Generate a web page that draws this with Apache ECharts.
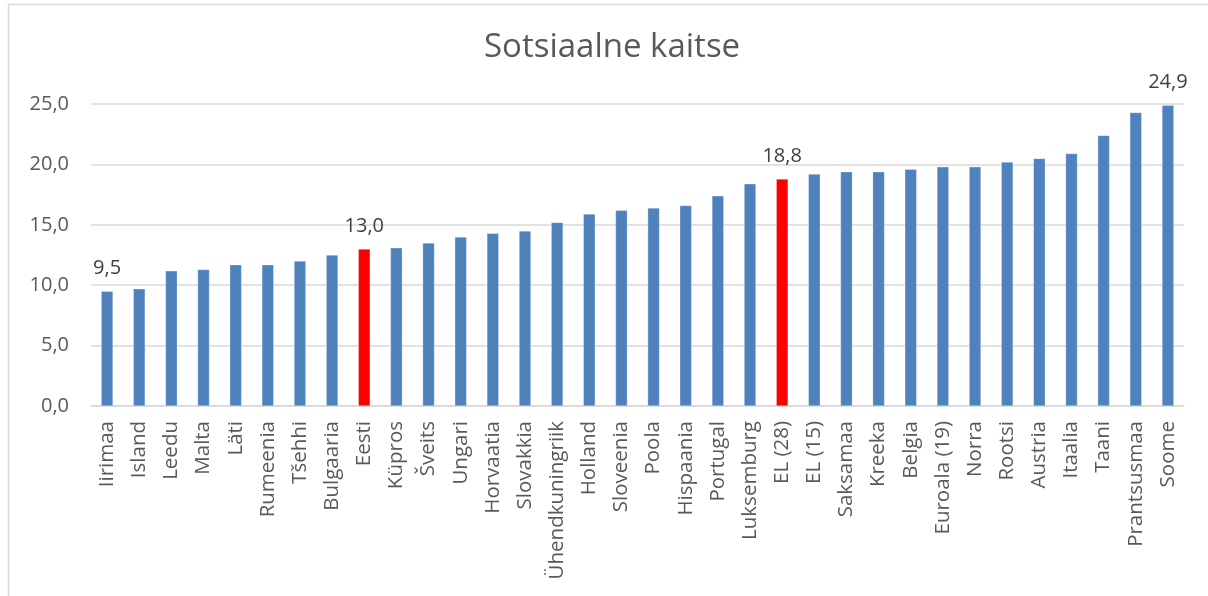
<!DOCTYPE html>
<html>
<head>
<meta charset="utf-8">
<script src="https://cdn.jsdelivr.net/npm/echarts@6/dist/echarts.min.js"></script>
<style>
  html, body { margin: 0; padding: 0; background: #fff; }
  #chart { width: 1208px; height: 596px; }
</style>
</head>
<body>
<div id="chart"></div>
<script>
// Sotsiaalse kaitse kulud, % SKP-st
const categories = [
  'Iirimaa', 'Island', 'Leedu', 'Malta', 'Läti', 'Rumeenia', 'Tšehhi', 'Bulgaaria',
  'Eesti', 'Küpros', 'Šveits', 'Ungari', 'Horvaatia', 'Slovakkia', 'Ühendkuningriik',
  'Holland', 'Sloveenia', 'Poola', 'Hispaania', 'Portugal', 'Luksemburg', 'EL (28)',
  'EL (15)', 'Saksamaa', 'Kreeka', 'Belgia', 'Euroala (19)', 'Norra', 'Rootsi',
  'Austria', 'Itaalia', 'Taani', 'Prantsusmaa', 'Soome'
];
const values = [
  9.5, 9.7, 11.2, 11.3, 11.7, 11.7, 12.0, 12.5,
  13.0, 13.1, 13.5, 14.0, 14.3, 14.5, 15.2,
  15.9, 16.2, 16.4, 16.6, 17.4, 18.4, 18.8,
  19.2, 19.4, 19.4, 19.6, 19.8, 19.8, 20.2,
  20.5, 20.9, 22.4, 24.3, 24.9
];
// categories shown in red
const highlighted = ['Eesti', 'EL (28)'];
// categories whose value is printed above the bar
const labelled = ['Iirimaa', 'Eesti', 'EL (28)', 'Soome'];
const yTicks = { min: 0, max: 25, interval: 5 };

const FONT = '"Open Sans", "Noto Sans", sans-serif';
const fmt = v => v.toFixed(1).replace('.', ',');

const barData = values.map((v, i) => ({
  value: v,
  itemStyle: { color: highlighted.includes(categories[i]) ? '#ff0000' : '#4f81bd' },
  label: { show: labelled.includes(categories[i]) }
}));

const chart = echarts.init(document.getElementById('chart'), null, { renderer: 'canvas' });
chart.setOption({
  animation: false,
  backgroundColor: '#ffffff',
  title: {
    text: 'Sotsiaalne kaitse',
    left: 479,
    top: 26,
    textStyle: { fontFamily: FONT, fontSize: 33, fontWeight: 'normal', color: '#595959' }
  },
  grid: { left: 91, right: 24, top: 104, bottom: 190, containLabel: false },
  xAxis: {
    type: 'category',
    data: categories,
    axisLine: { lineStyle: { color: '#d9d9d9', width: 1.5 } },
    axisTick: { show: false },
    axisLabel: {
      rotate: 90,
      interval: 0,
      margin: 15,
      fontFamily: FONT,
      fontSize: 20.5,
      color: '#595959'
    }
  },
  yAxis: {
    type: 'value',
    min: yTicks.min,
    max: yTicks.max,
    interval: yTicks.interval,
    axisLine: { show: false },
    axisTick: { show: false },
    splitLine: { lineStyle: { color: '#d9d9d9', width: 1.5 } },
    axisLabel: {
      margin: 22,
      fontFamily: FONT,
      fontSize: 20,
      color: '#595959',
      formatter: v => fmt(v)
    }
  },
  series: [{
    type: 'bar',
    data: barData,
    barWidth: 12,
    itemStyle: { borderColor: 'rgba(255,255,255,0.5)', borderWidth: 0.6 },
    label: {
      position: 'top',
      distance: 13,
      fontFamily: FONT,
      fontSize: 20,
      color: '#404040',
      formatter: p => fmt(p.value)
    }
  }],
  graphic: [{
    type: 'rect',
    silent: true,
    shape: { x: 8.5, y: 4.5, width: 1210, height: 610 },
    style: { fill: 'none', stroke: '#d9d9d9', lineWidth: 1.5 }
  }]
});
</script>
</body>
</html>
